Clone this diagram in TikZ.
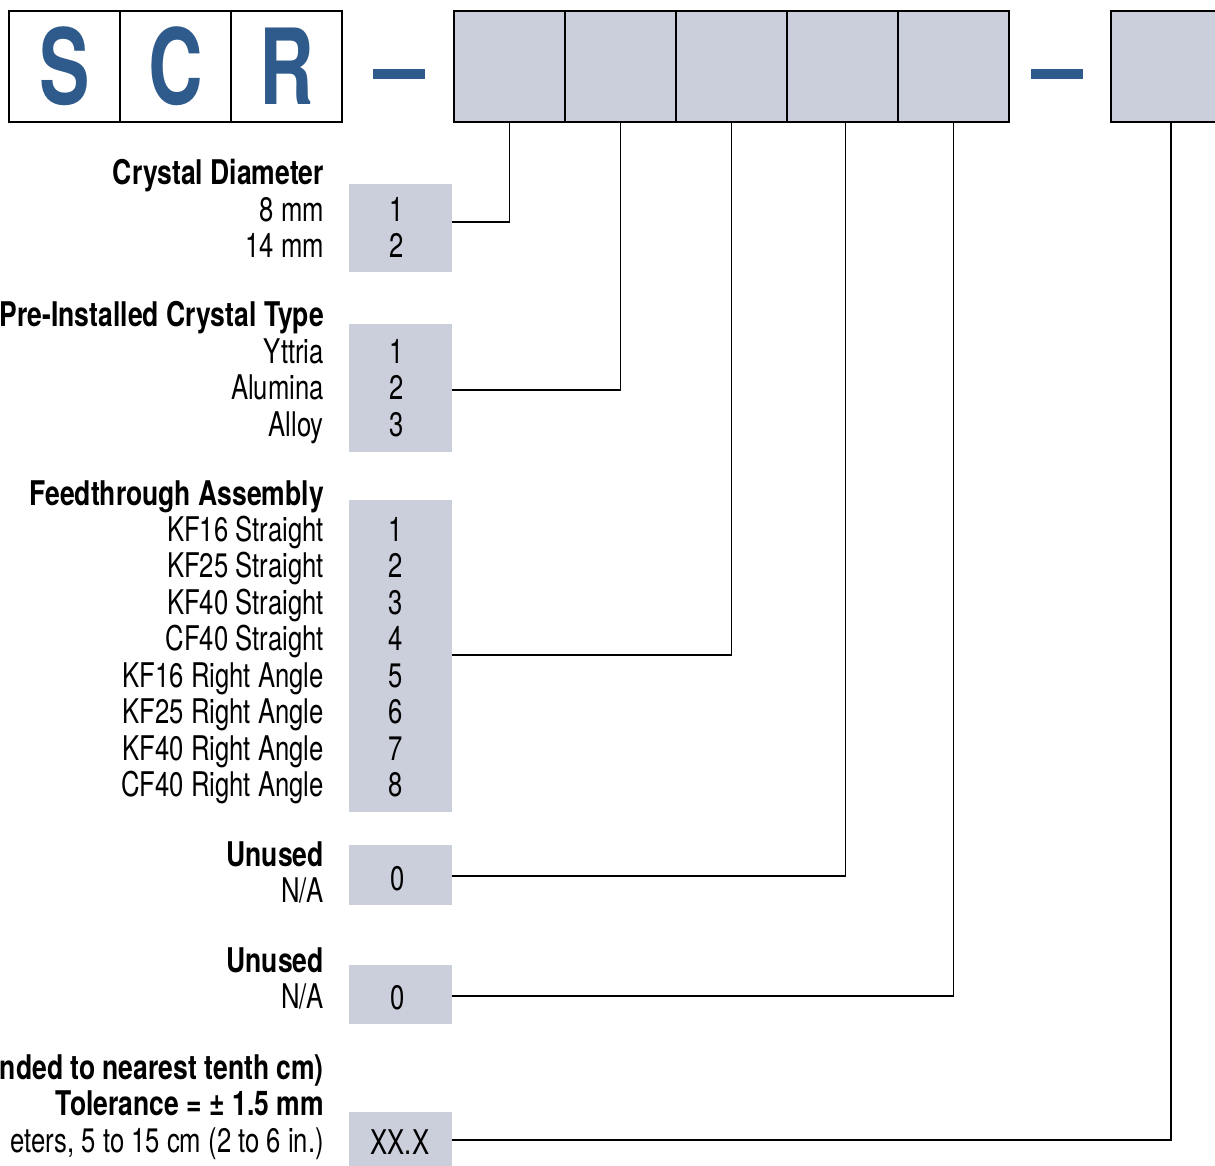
\documentclass[tikz,border=0pt]{standalone}
\usepackage{fontspec}
\setmainfont{TeX Gyre Heros}[UprightFeatures={FakeStretch=0.755},BoldFeatures={FakeStretch=0.78}]
\newfontfamily\codefont{TeX Gyre Heros}[FakeStretch=0.72]
\usetikzlibrary{positioning}
\definecolor{codeblue}{HTML}{2E5A8C}
\definecolor{slotgray}{HTML}{CBCEDB}
\tikzset{
  font=\fontsize{34}{36}\selectfont
}

\begin{document}
\begin{tikzpicture}[x=1pt,y=-1pt,
  codebox/.style={rectangle,draw,line width=2pt,fill=white,outer sep=0pt,
    minimum width=111pt,minimum height=111pt,inner sep=0pt,text=codeblue,
    font=\codefont\fontsize{105}{105}\selectfont\bfseries},
  slot/.style={rectangle,draw,line width=2pt,fill=slotgray,outer sep=0pt,
    minimum width=111pt,minimum height=111pt},
  bar/.style={rectangle,fill=codeblue,minimum width=52pt,minimum height=10pt,inner sep=0pt},
  opt/.style={rectangle,fill=slotgray,minimum width=103pt,inner sep=0pt,outer sep=0pt},
  lbl/.style={anchor=base east,inner sep=0pt},
  hdr/.style={lbl,font=\fontsize{34}{36}\selectfont\bfseries},
  num/.style={anchor=base,inner sep=0pt},
  conn/.style={line width=1.5pt}]
\useasboundingbox (0,0) rectangle (1215,1165);
% part number code
\node[codebox] (s) at (64.5,66.5) {S};
\node[codebox] (c) [right=0pt of s] {C};
\node[codebox] (r) [right=0pt of c] {R};
\node[bar] (dash1) at (399,74) {};
\node[slot] (d1) at (509.5,66.5) {};
\node[slot] (d2) [right=0pt of d1] {};
\node[slot] (d3) [right=0pt of d2] {};
\node[slot] (d4) [right=0pt of d3] {};
\node[slot] (d5) [right=0pt of d4] {};
\node[bar] (dash2) at (1057,74) {};
\node[slot,minimum width=120pt] (e1) at (1171,66.5) {};
% option boxes
\node[opt,minimum height=88pt] (o1) at (400.5,228) {};
\node[opt,minimum height=128pt] (o2) at (400.5,388) {};
\node[opt,minimum height=312pt] (o3) at (400.5,656) {};
\node[opt,minimum height=60pt] (o4) at (400.5,875) {};
\node[opt,minimum height=59pt] (o5) at (400.5,994.5) {};
\node[opt,minimum height=56pt] (o6) at (400.5,1140) {};
% crystal diameter
\node[hdr] (cdh) at (324,184) {Crystal Diameter};
\node[lbl] (cd1) at (324,221) {8 mm};
\node[lbl] (cd2) at (324,257) {14 mm};
\node[num] (cdn1) at (397,221) {1};
\node[num] (cdn2) at (397,257) {2};
% crystal type
\node[hdr] (cth) at (324,326) {Pre-Installed Crystal Type};
\node[lbl] (ct1) at (324,363) {Yttria};
\node[lbl] (ct2) at (324,399) {Alumina};
\node[lbl] (ct3) at (324,436) {Alloy};
\node[num] (ctn1) at (397,363) {1};
\node[num] (ctn2) at (397,399) {2};
\node[num] (ctn3) at (397,436) {3};
% feedthrough
\node[hdr] (fth) at (324,505) {Feedthrough Assembly};
\foreach \lab [count=\i] in {KF16 Straight,KF25 Straight,KF40 Straight,CF40 Straight,
    KF16 Right Angle,KF25 Right Angle,KF40 Right Angle,CF40 Right Angle}{
  \node[lbl] (ft\i) at (324,{541+36.5*(\i-1)}) {\lab};
  \node[num] (ftn\i) at (396,{541+36.5*(\i-1)}) {\i};
}
% unused
\node[hdr] (u1h) at (324,866) {Unused};
\node[lbl] (u1) at (324,902) {N/A};
\node[num] (u1n) at (398,890) {0};
\node[hdr] (u2h) at (324,972) {Unused};
\node[lbl] (u2) at (324,1008) {N/A};
\node[num] (u2n) at (398,1009) {0};
% length
\node[hdr] (lnh) at (324,1079) {nded to nearest tenth cm)};
\node[hdr] (lnt) at (324,1115) {Tolerance = ± 1.5 mm};
\node[lbl] (lnr) at (324,1152) {eters, 5 to 15 cm (2 to 6 in.)};
\node[num] (lnn) at (400,1154) {XX.X};
% connectors
\draw[conn] (d1.south) |- ([yshift=6pt]o1.east);
\draw[conn] (d2.south) |- ([yshift=-2pt]o2.east);
\draw[conn] (d3.south) |- ([yshift=1pt]o3.east);
\draw[conn] ([xshift=3pt]d4.south) |- ([yshift=-1pt]o4.east);
\draw[conn] (d5.south) |- ([yshift=-1.5pt]o5.east);
\draw[conn] (e1.south) |- (o6.east);
\end{tikzpicture}
\end{document}
